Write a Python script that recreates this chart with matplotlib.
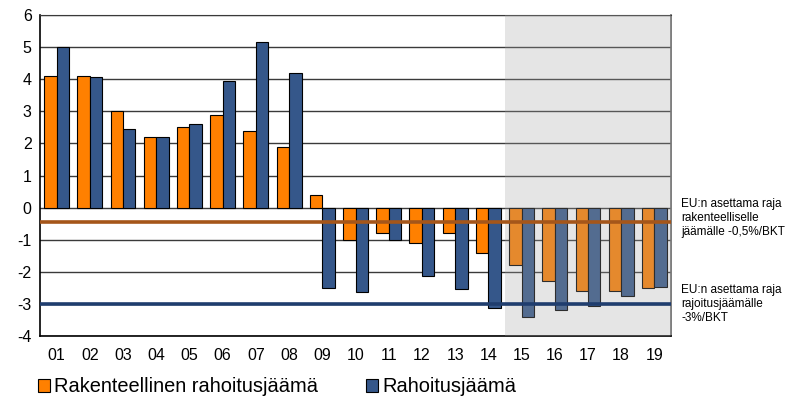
import numpy as np
import matplotlib.pyplot as plt
from matplotlib.patches import Patch

plt.rcParams['font.family'] = ['Liberation Sans', 'DejaVu Sans']
plt.rcParams['axes.unicode_minus'] = False

# vuodet 2001-2019
years = ['01', '02', '03', '04', '05', '06', '07', '08', '09', '10',
         '11', '12', '13', '14', '15', '16', '17', '18', '19']
structural = [4.1, 4.1, 3.0, 2.2, 2.5, 2.9, 2.4, 1.9, 0.4, -1.0,
              -0.8, -1.1, -0.8, -1.4, -1.8, -2.3, -2.6, -2.6, -2.5]
balance = [5.0, 4.08, 2.44, 2.2, 2.6, 3.93, 5.15, 4.18, -2.52, -2.62,
           -1.0, -2.12, -2.53, -3.14, -3.4, -3.19, -3.06, -2.74, -2.48]
limit_structural = -0.45
limit_balance = -3.0
forecast_start = 14  # ennusteosa alkaa vuodesta 15

x = np.arange(len(years))
w = 0.375

fig = plt.figure(figsize=(7.85, 4.0), dpi=100)
ax = fig.add_axes([40 / 785, 64 / 400, 631 / 785, 321 / 400])

ax.bar(x - w / 2, structural, w, color='#ff8000', edgecolor='black', linewidth=0.8, zorder=2)
ax.bar(x + w / 2, balance, w, color='#35578a', edgecolor='black', linewidth=0.8, zorder=2)

# harmaa ennustealue
ax.axvspan(forecast_start - 0.5, len(years) - 0.5, color='#a3a3a3', alpha=0.28, lw=0, zorder=3)

ax.axhline(limit_structural, color='#a5561a', linewidth=2.6, zorder=4)
ax.axhline(limit_balance, color='#1f3d6e', linewidth=2.6, zorder=4)

for yv in range(-4, 7):
    ax.axhline(yv, color='#3a3a3a', linewidth=1.0, zorder=1)

ax.set_xlim(-0.5, len(years) - 0.5)
ax.set_ylim(-4, 6)
ax.set_yticks(range(-4, 7))
ax.set_xticks(x)
ax.set_xticklabels(years)
ax.tick_params(axis='both', length=0, labelsize=11.5)
ax.tick_params(axis='x', pad=9)
ax.tick_params(axis='y', pad=6)

for side in ['left', 'bottom']:
    ax.spines[side].set_color('black')
    ax.spines[side].set_linewidth(1.2)
ax.spines['top'].set_color('#3a3a3a')
ax.spines['right'].set_color('#666666')
ax.spines['right'].set_linewidth(1.2)

fig.text(681 / 785, 1 - 198 / 400, "EU:n asettama raja\nrakenteelliselle\njäämälle -0,5%/BKT",
         fontsize=8.5, va='top', linespacing=1.2)
fig.text(681 / 785, 1 - 284 / 400, "EU:n asettama raja\nrajoitusjäämälle\n-3%/BKT",
         fontsize=8.5, va='top', linespacing=1.2)

handles = [Patch(facecolor='#ff8000', edgecolor='black', linewidth=0.8),
           Patch(facecolor='#35578a', edgecolor='black', linewidth=0.8)]
fig.legend(handles, ['Rakenteellinen rahoitusjäämä', 'Rahoitusjäämä'],
           loc='center left', bbox_to_anchor=(38 / 785, 1 - 387 / 400), ncol=2,
           frameon=False, fontsize=14.4, handlelength=0.6, handleheight=0.6,
           handletextpad=0.2, columnspacing=2.4, borderaxespad=0, borderpad=0)

fig.savefig('out.png', dpi=100)
